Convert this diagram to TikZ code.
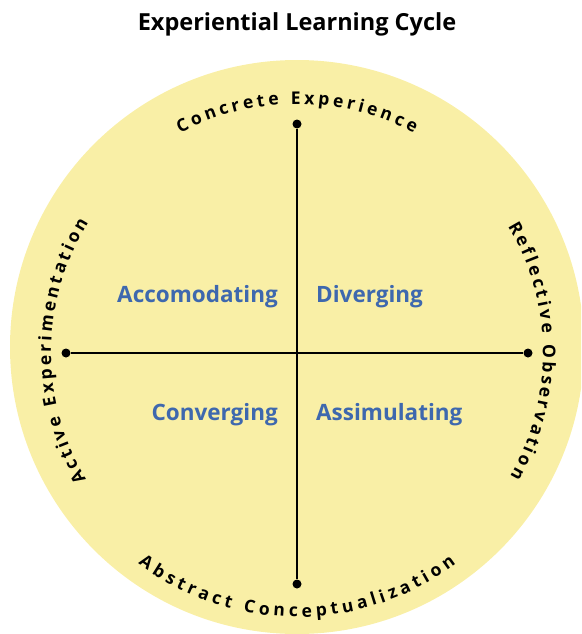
\documentclass[tikz,border=0pt]{standalone}
\usepackage{fontspec}
\setmainfont{Open Sans}
\usetikzlibrary{decorations.text}
\definecolor{cyclefill}{RGB}{249,239,166}
\definecolor{styleblue}{RGB}{62,104,174}
\tikzset{
  enddot/.style={circle, fill=black, inner sep=0pt, minimum size=9pt},
  axisline/.style={line width=2.4pt},
  stylelabel/.style={font=\bfseries\fontsize{22.5}{26}\selectfont, text=styleblue, inner sep=0pt},
  titlelabel/.style={font=\bfseries\fontsize{23.5}{26}\selectfont, inner sep=0pt},
  arclabel/.style={decorate, decoration={text along path, text align={fit to path},
      text={|\bfseries\fontsize{17.5}{20}\selectfont|#1}}}
}
\begin{document}
\begin{tikzpicture}[x=1pt, y=1pt]
  \useasboundingbox (0,0) rectangle (581,-634);
  \clip (0,0) rectangle (581,-634);
  % background disc
  \fill[cyclefill] (297,-347) circle[radius=287pt];
  \coordinate (c) at (297,-353);
  % title
  \node[titlelabel, anchor=base] (title) at (297,-31) {Experiential Learning Cycle};
  % axis end points
  \node[enddot] (ce) at (297,-124) {};
  \node[enddot] (ac) at (297,-584) {};
  \node[enddot] (ae) at (66,-353) {};
  \node[enddot] (ro) at (528,-353) {};
  \draw[axisline] (ce) -- (ac);
  \draw[axisline] (ae) -- (ro);
  % learning styles
  \node[stylelabel, anchor=base east] (acc) at (278,-302) {Accomodating};
  \node[stylelabel, anchor=base west] (div) at (316,-302) {Diverging};
  \node[stylelabel, anchor=base east] (con) at (278,-420) {Converging};
  \node[stylelabel, anchor=base west] (ass) at (316,-420) {Assimulating};
  % stage names around the cycle
  \path[arclabel={Concrete Experience}] (c) ++(118:249pt) arc[start angle=118, end angle=62, radius=249pt];
  \path[arclabel={Reflective Observation}] (c) ++(31:246pt) arc[start angle=31, end angle=-30, radius=246pt];
  \path[arclabel={Abstract Conceptualization}] (c) ++(233:264pt) arc[start angle=233, end angle=307, radius=264pt];
  \path[arclabel={Active Experimentation}] (c) ++(211:246pt) arc[start angle=211, end angle=148, radius=246pt];
\end{tikzpicture}
\end{document}
